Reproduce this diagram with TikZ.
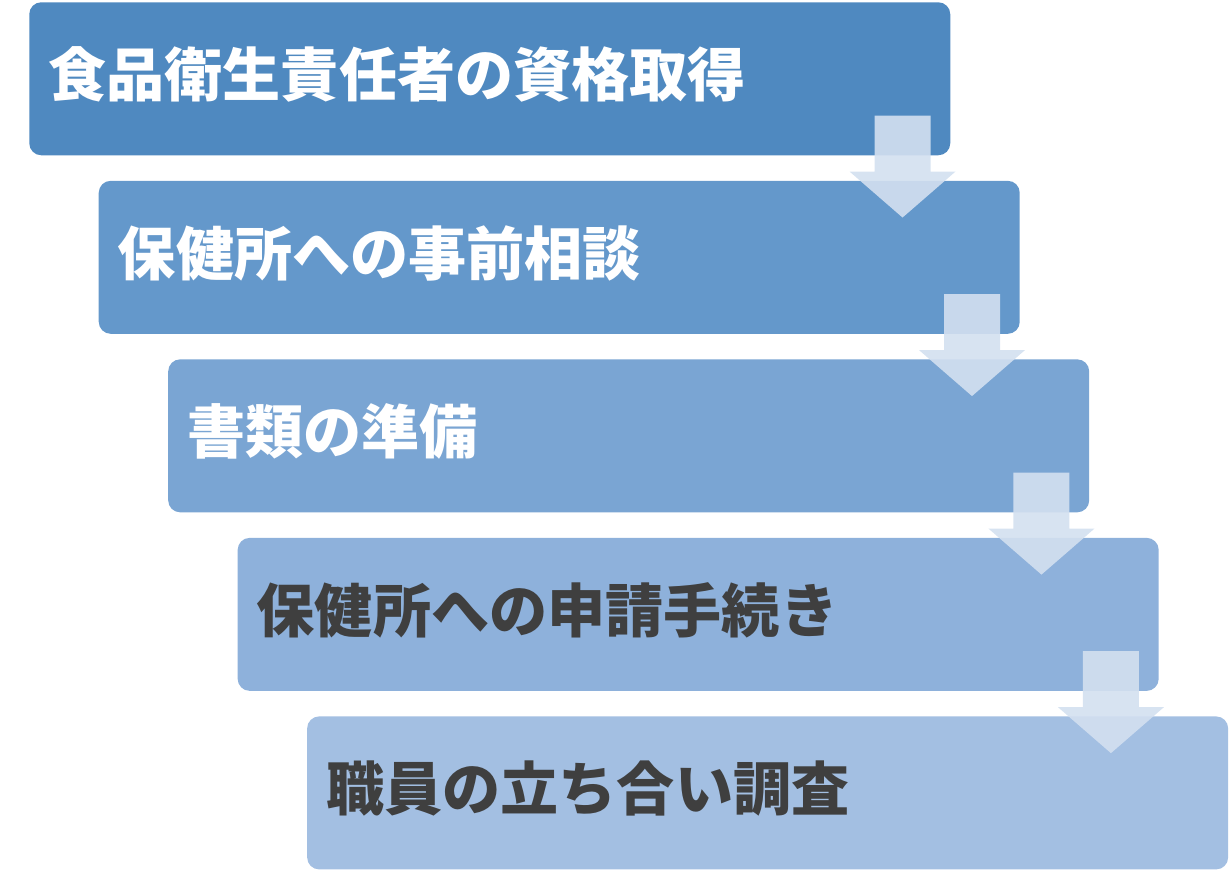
\documentclass[tikz,border=0pt]{standalone}
\usepackage{fontspec}
\newfontfamily\jp{Noto Sans CJK JP}
\usetikzlibrary{positioning}
\definecolor{stepA}{RGB}{79,137,192}
\definecolor{stepB}{RGB}{100,152,203}
\definecolor{stepC}{RGB}{122,165,211}
\definecolor{stepD}{RGB}{142,177,219}
\definecolor{stepE}{RGB}{163,191,226}
\definecolor{arrowfill}{RGB}{211,224,240}
\definecolor{darktext}{RGB}{63,63,63}
\newcommand\steptext[1]{\raisebox{-13.5pt}[0pt][0pt]{#1}}
\begin{document}
\begin{tikzpicture}[node distance=133.9pt and 52.1pt,on grid,
    stepbox/.style={rectangle,rounded corners=9pt,fill=#1,minimum width=690.75pt,
      minimum height=114.75pt,text width=662pt,inner xsep=14pt,align=left,
      font=\jp\bfseries\fontsize{43.6pt}{52pt}\selectfont},
    flowarrow/.style={fill=arrowfill,fill opacity=0.9}]
			\useasboundingbox (0,0) rectangle (923.25pt,-666.75pt);
			\node[stepbox=stepA, text=white, anchor=north west] (s_1) at (21.75pt,-1.5pt) {\steptext{食品衛生責任者の資格取得}};
			\node[stepbox=stepB, text=white] (s_2) [below right=of s_1] {\steptext{保健所への事前相談}};
			\node[stepbox=stepC, text=white] (s_3) [below right=of s_2] {\steptext{書類の準備}};
			\node[stepbox=stepD, text=darktext] (s_4) [below right=of s_3] {\steptext{保健所への申請手続き}};
			\node[stepbox=stepE, text=darktext] (s_5) [below right=of s_4] {\steptext{職員の立ち合い調査}};
			% arrows between steps
			\foreach \s in {1,...,4}
				\path[flowarrow] ([shift={(-57pt,30pt)}]s_\s.south east) -- ++(42pt,0) -- ++(0,-42pt)
				-- ++(18.75pt,0) -- ++(-39.75pt,-34.5pt) -- ++(-39.75pt,34.5pt) -- ++(18.75pt,0) -- cycle;
		\end{tikzpicture}
\end{document}
